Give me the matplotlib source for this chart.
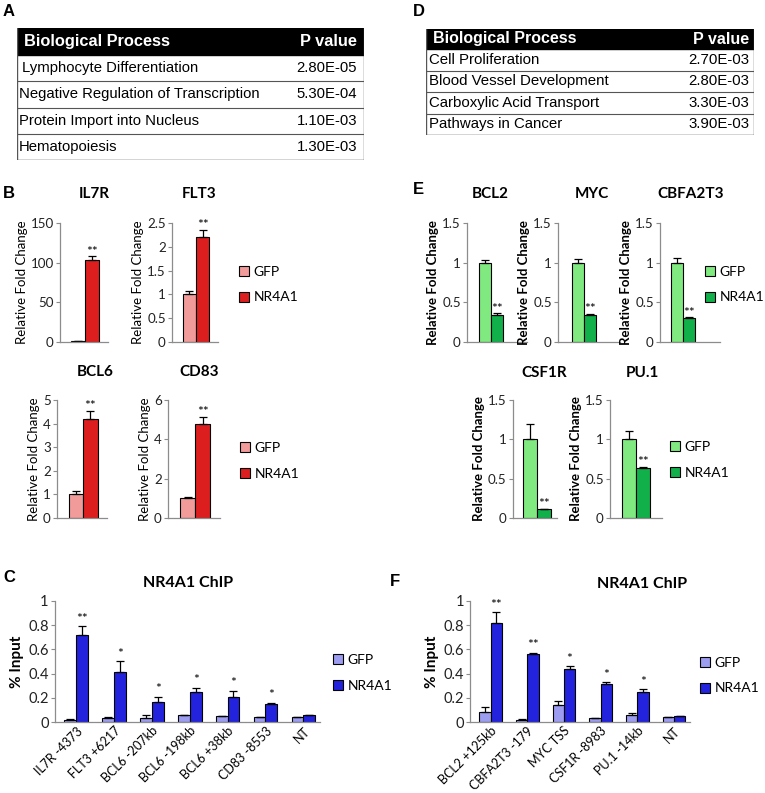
import matplotlib
matplotlib.use('Agg')
import matplotlib.pyplot as plt
import numpy as np

plt.rcParams['font.family'] = ['Lato', 'DejaVu Sans']

# ---- data ----
go_terms_a = ['Lymphocyte Differentiation', 'Negative Regulation of Transcription',
              'Protein Import into Nucleus', 'Hematopoiesis']
go_pvals_a = ['2.80E-05', '5.30E-04', '1.10E-03', '1.30E-03']

go_terms_d = ['Cell Proliferation', 'Blood Vessel Development',
              'Carboxylic Acid Transport', 'Pathways in Cancer']
go_pvals_d = ['2.70E-03', '2.80E-03', '3.30E-03', '3.90E-03']

genes_b = ['IL7R', 'FLT3', 'BCL6', 'CD83']
gfp_b = [1.0, 1.0, 1.0, 1.0]
gfp_b_err = [0.0, 0.08, 0.15, 0.05]
nr4a1_b = [103, 2.2, 4.18, 4.8]
nr4a1_b_err = [5, 0.15, 0.35, 0.32]
stars_b = ['**', '**', '**', '**']
ymax_b = [150, 2.5, 5, 6]
ystep_b = [50, 0.5, 1, 2]

genes_e = ['BCL2', 'MYC', 'CBFA2T3', 'CSF1R', 'PU.1']
gfp_e = [1.0, 1.0, 1.0, 1.0, 1.0]
gfp_e_err = [0.03, 0.05, 0.06, 0.2, 0.1]
nr4a1_e = [0.34, 0.34, 0.30, 0.11, 0.63]
nr4a1_e_err = [0.02, 0.01, 0.01, 0.01, 0.02]
stars_e = ['**', '**', '**', '**', '**']

sites_c = ['IL7R -4373', 'FLT3 +6217', 'BCL6 -207kb', 'BCL6 -198kb',
           'BCL6 +38kb', 'CD83 -8553', 'NT']
gfp_c = [0.02, 0.03, 0.03, 0.055, 0.05, 0.045, 0.04]
gfp_c_err = [0.003, 0.012, 0.03, 0.0, 0.0, 0.0, 0.0]
nr4a1_c = [0.72, 0.41, 0.165, 0.25, 0.205, 0.145, 0.055]
nr4a1_c_err = [0.07, 0.095, 0.045, 0.035, 0.055, 0.015, 0.0]
stars_c = ['**', '*', '*', '*', '*', '*', '']

sites_f = ['BCL2 +125kb', 'CBFA2T3 -179', 'MYC TSS', 'CSF1R -8983',
           'PU.1 -14kb', 'NT']
gfp_f = [0.08, 0.02, 0.14, 0.035, 0.055, 0.04]
gfp_f_err = [0.045, 0.005, 0.032, 0.0, 0.017, 0.0]
nr4a1_f = [0.82, 0.563, 0.435, 0.313, 0.245, 0.05]
nr4a1_f_err = [0.087, 0.01, 0.025, 0.017, 0.03, 0.0]
stars_f = ['**', '**', '*', '*', '*', '']

# ---- layout helpers (pixels) ----
W, H = 765, 793
fig = plt.figure(figsize=(W / 100, H / 100), dpi=100)

def rect(x0, y0, x1, y1):
    return [x0 / W, 1 - y1 / H, (x1 - x0) / W, (y1 - y0) / H]

def ftext(x, y, s, **kw):
    fig.text(x / W, 1 - y / H, s, **kw)

red_light, red_dark = '#F29B9B', '#DC1E1E'
green_light, green_dark = '#80EA80', '#12B04A'
blue_light, blue_dark = '#9C9CF0', '#2323DD'
spine_col = '#8C8C8C'


def draw_table(x0, y0, x1, y1, head_h, terms, pvals, text_dx, pv_right, fs, hfs):
    ax = fig.add_axes(rect(x0, y0, x1, y1))
    w, h = x1 - x0, y1 - y0
    pr = pv_right - x0
    ax.set_xlim(0, w)
    ax.set_ylim(h, 0)
    ax.axis('off')
    ax.add_patch(plt.Rectangle((0, 0), w, head_h, color='black'))
    ax.text(7, head_h / 2, 'Biological Process', color='white', fontsize=hfs,
            fontweight='bold', family='Liberation Sans', va='center', ha='left')
    ax.text(pr, head_h / 2, 'P value', color='white', fontsize=hfs,
            fontweight='bold', family='Liberation Sans', va='center', ha='right')
    rh = (h - head_h) / len(terms)
    for i, (t, p) in enumerate(zip(terms, pvals)):
        yc = head_h + rh * (i + 0.5)
        ax.text(text_dx[i], yc, t, fontsize=fs, family='Liberation Sans', va='center', ha='left')
        ax.text(pr, yc, p, fontsize=fs, family='Liberation Sans', va='center', ha='right')
        ax.plot([0, w], [head_h + rh * (i + 1)] * 2, color='#555555', lw=0.8)
    ax.plot([0, 0, w, w], [0, h, h, 0], color='#555555', lw=1.0)


def style_axes(ax):
    for s in ['top', 'right']:
        ax.spines[s].set_visible(False)
    for s in ['left', 'bottom']:
        ax.spines[s].set_color(spine_col)
        ax.spines[s].set_linewidth(0.9)
    ax.tick_params(axis='y', direction='out', length=3, width=0.8, color=spine_col,
                   labelsize=9.6, pad=1.5, labelcolor='#222222')
    ax.yaxis.set_major_formatter(matplotlib.ticker.FormatStrFormatter('%g'))


def small_panel(box, xlim, g, ge, n, ne, star, ymax, ystep, cols, bold_label):
    ax = fig.add_axes(rect(*box))
    ek = dict(ecolor='black', elinewidth=0.9, capsize=3, capthick=0.9)
    ax.bar([-0.5], [g], 1, yerr=[[0], [ge]], color=cols[0], edgecolor='black', lw=0.8,
           error_kw=ek, label='GFP')
    ax.bar([0.5], [n], 1, yerr=[[0], [ne]], color=cols[1], edgecolor='black', lw=0.8,
           error_kw=ek, label='NR4A1')
    ax.text(0.5, n + ne - ymax * 0.01, star, ha='center', va='bottom', fontsize=10)
    ax.set_xlim(*xlim)
    ax.set_ylim(0, ymax)
    ax.set_yticks(np.arange(0, ymax + ystep / 2, ystep))
    ax.set_xticks([])
    style_axes(ax)
    ax.set_ylabel('Relative Fold Change', fontsize=9.5,
                  fontweight='bold' if bold_label else 'normal', labelpad=2)
    return ax


def chip_panel(box, sites, g, ge, n, ne, stars, cols):
    ax = fig.add_axes(rect(*box))
    x = np.arange(len(sites))
    bw = 0.31
    ek = dict(ecolor='black', elinewidth=0.9, capsize=3, capthick=0.9)
    ax.bar(x - bw / 2 + 0.06, g, bw, yerr=[np.zeros(len(ge)), ge], color=cols[0],
           edgecolor='black', lw=0.8, error_kw=ek, label='GFP')
    ax.bar(x + bw / 2 + 0.06, n, bw, yerr=[np.zeros(len(ne)), ne], color=cols[1],
           edgecolor='black', lw=0.8, error_kw=ek, label='NR4A1')
    for xi, v, e, s in zip(x, n, ne, stars):
        ax.text(xi + bw / 2 + 0.06, v + e + 0.01, s, ha='center', va='bottom', fontsize=10)
    ax.set_xlim(-0.5, len(sites) - 0.5)
    ax.set_ylim(0, 1)
    ax.set_yticks(np.arange(0, 1.01, 0.2))
    ax.set_xticks(x + 0.06)
    ax.set_xticklabels(sites, rotation=45, ha='right', rotation_mode='anchor', fontsize=9)
    ax.tick_params(axis='x', length=0, pad=2)
    style_axes(ax)
    ax.tick_params(axis='y', labelsize=10.5)
    ax.set_ylabel('% Input', fontsize=11, fontweight='bold', labelpad=3)
    return ax


def legend_at(ax, x, y):
    ax.legend(loc='center left', bbox_to_anchor=(x / W, 1 - y / H),
              bbox_transform=fig.transFigure, frameon=False, borderpad=0,
              borderaxespad=0, handlelength=0.75, handleheight=0.75,
              handletextpad=0.3, labelspacing=1.0, fontsize=10)


# ---- panel letters ----
for letter, (lx, ly) in zip('ABCDEF', [(3, 12), (3, 194), (3, 578), (413, 12), (413, 189), (390, 582)]):
    ftext(lx, ly, letter, fontsize=12, fontweight='bold', family='Liberation Sans',
          va='center', ha='left')

# ---- tables ----
draw_table(17, 28, 364, 160, 27, go_terms_a, go_pvals_a, [5, 2, 2, 2], 357, 10.7, 11.8)
draw_table(426, 29, 754, 135, 20, go_terms_d, go_pvals_d, [3, 3, 3, 3], 749, 10.8, 11.5)

# ---- panel B ----
b_boxes = [(60, 223, 108, 342), (172, 223, 218, 342), (57, 400, 107, 518), (168, 400, 220, 518)]
b_titles = [(94, 194), (199, 194), (95, 372), (199, 372)]
b_axes = []
for i in range(4):
    ax = small_panel(b_boxes[i], (-1.8, 1.65), gfp_b[i], gfp_b_err[i],
                     nr4a1_b[i], nr4a1_b_err[i], stars_b[i], ymax_b[i], ystep_b[i],
                     (red_light, red_dark), False)
    ftext(b_titles[i][0], b_titles[i][1], genes_b[i], fontsize=11, fontweight='bold',
          ha='center', va='center')
    b_axes.append(ax)
legend_at(b_axes[1], 239, 284.5)
legend_at(b_axes[3], 240, 461)

# ---- panel E ----
e_boxes = [(467, 223, 527, 342), (558, 223, 620, 342), (660, 223, 720, 342),
           (513, 400, 557, 518), (610, 400, 662, 518)]
e_xlims = [(-2.0, 3.0), (-2.1, 2.9), (-1.85, 3.0), (-1.7, 1.4), (-1.9, 1.9)]
e_titles = [(490, 194), (592, 194), (691, 194), (544, 373), (642, 373)]
e_axes = []
for i in range(5):
    ax = small_panel(e_boxes[i], e_xlims[i], gfp_e[i], gfp_e_err[i],
                     nr4a1_e[i], nr4a1_e_err[i], stars_e[i], 1.5, 0.5,
                     (green_light, green_dark), True)
    ftext(e_titles[i][0], e_titles[i][1], genes_e[i], fontsize=11, fontweight='bold',
          ha='center', va='center')
    e_axes.append(ax)
legend_at(e_axes[2], 705, 284.5)
legend_at(e_axes[4], 670, 460)

# ---- panels C and F ----
axc = chip_panel((55, 601, 320, 722), sites_c, gfp_c, gfp_c_err, nr4a1_c, nr4a1_c_err,
                 stars_c, (blue_light, blue_dark))
ftext(188, 583, 'NR4A1 ChIP', fontsize=11.5, fontweight='bold', ha='center', va='center')
legend_at(axc, 333, 673)

axf = chip_panel((470, 601, 690, 722), sites_f, gfp_f, gfp_f_err, nr4a1_f, nr4a1_f_err,
                 stars_f, (blue_light, blue_dark))
ftext(642, 584, 'NR4A1 ChIP', fontsize=11.5, fontweight='bold', ha='center', va='center')
legend_at(axf, 700, 675.5)

fig.savefig('out.png', dpi=100, facecolor='white')
